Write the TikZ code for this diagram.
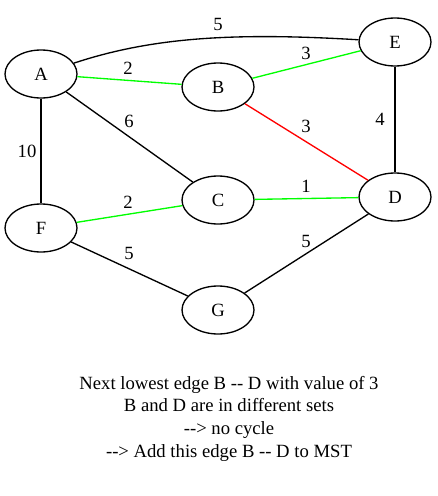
\documentclass[tikz,border=0pt]{standalone}
\usepackage{fontspec}
\setmainfont{Liberation Serif}[Ligatures=TeXOff]
\usetikzlibrary{shapes.geometric}
\definecolor{gvgreen}{RGB}{0,255,0}
\definecolor{gvred}{RGB}{255,0,0}
\begin{document}
\begin{tikzpicture}[x=0.75pt,y=-0.75pt,
  vtx/.style={draw,ellipse,line width=1pt,minimum width=54pt,minimum height=36pt,inner sep=0pt,font=\fontsize{14}{17}\selectfont},
  edge/.style={line width=1pt},
  wlab/.style={font=\fontsize{14}{17}\selectfont,inner sep=0pt},
  txt/.style={font=\fontsize{14}{17}\selectfont,inner sep=0pt,anchor=base}]
\useasboundingbox (0,0) rectangle (437,496);
\node[vtx] (A) at (41,74) {A};
\node[vtx] (B) at (218,87) {B};
\node[vtx] (E) at (395,42) {E};
\node[vtx] (C) at (218,200) {C};
\node[vtx] (D) at (395,197) {D};
\node[vtx] (F) at (41,228) {F};
\node[vtx] (G) at (218,310) {G};
\draw[edge] (A) .. controls (150,38) and (230,32) .. (E);
\draw[edge,gvgreen] (A) -- (B);
\draw[edge,gvgreen] (B) -- (E);
\draw[edge,gvred] (B) -- (D);
\draw[edge] (E) -- (D);
\draw[edge] (A) -- (C);
\draw[edge] (A) -- (F);
\draw[edge,gvgreen] (C) -- (D);
\draw[edge,gvgreen] (F) -- (C);
\draw[edge] (F) -- (G);
\draw[edge] (D) -- (G);
\node[wlab] (lAE) at (218,24) {5};
\node[wlab] (lAB) at (128,68) {2};
\node[wlab] (lBE) at (306,53) {3};
\node[wlab] (lBD) at (306,126) {3};
\node[wlab] (lED) at (380,119) {4};
\node[wlab] (lAC) at (129,121) {6};
\node[wlab] (lAF) at (27,151) {10};
\node[wlab] (lCD) at (306,186) {1};
\node[wlab] (lFC) at (128,202) {2};
\node[wlab] (lFG) at (129,253) {5};
\node[wlab] (lDG) at (306,241) {5};
\node[txt] (t1) at (229,389) {Next lowest edge B -- D with value of 3};
\node[txt] (t2) at (229,411.7) {B and D are in different sets};
\node[txt] (t3) at (229,434.3) {--> no cycle};
\node[txt] (t4) at (229,457) {--> Add this edge B -- D to MST};
\end{tikzpicture}
\end{document}
